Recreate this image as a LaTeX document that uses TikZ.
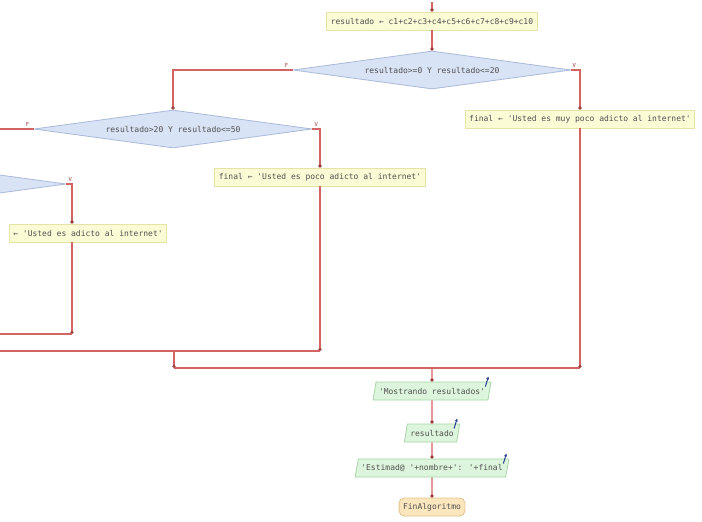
\documentclass[tikz,border=0pt]{standalone}
\usepackage{fontspec}
\newfontfamily\diagmono{DejaVu Sans Mono}
\usetikzlibrary{shapes.geometric,arrows.meta,calc}
\definecolor{procfill}{HTML}{FBFBD6}
\definecolor{procdraw}{HTML}{E4E4A6}
\definecolor{decfill}{HTML}{D9E3F6}
\definecolor{decdraw}{HTML}{A9B9D9}
\definecolor{iofill}{HTML}{DDF5DD}
\definecolor{iodraw}{HTML}{A6D6A6}
\definecolor{endfill}{HTML}{FBE6BE}
\definecolor{enddraw}{HTML}{E2C48E}
\definecolor{flow}{HTML}{D36464}
\definecolor{tipc}{HTML}{A03C3C}
\definecolor{txt}{HTML}{505050}
\definecolor{outarrow}{HTML}{2A3F8F}
\tikzset{
  every node/.style={font=\diagmono\fontsize{8}{9}\selectfont, text=txt},
  procbox/.style={rectangle, draw=procdraw, fill=procfill, line width=0.8pt, minimum height=18pt, inner xsep=4pt, inner ysep=2pt},
  decbox/.style={diamond, aspect=7.3, draw=decdraw, fill=decfill, line width=0.8pt, minimum width=278pt, minimum height=38pt, inner sep=0pt},
  iobox/.style={trapezium, trapezium left angle=74, trapezium right angle=106, draw=iodraw, fill=iofill, line width=0.8pt, minimum height=18pt, inner xsep=3pt, inner ysep=2pt, trapezium stretches body},
  endbox/.style={rectangle, rounded corners=5pt, draw=enddraw, fill=endfill, line width=0.8pt, minimum height=18pt, inner xsep=4pt},
  flowline/.style={draw=flow, line width=1.1pt},
  flowarrow/.style={flowline, -{Circle[length=3.2pt, fill=tipc, color=tipc]}},
  tf/.style={font=\diagmono\fontsize{5.5}{6}\selectfont, text=tipc, inner sep=0pt},
  outmark/.style={draw=outarrow, line width=1pt, -{Stealth[length=3pt, width=3pt]}}
}
\begin{document}
\begin{tikzpicture}[x=1pt, y=-1pt]
\useasboundingbox (0,0) rectangle (702,522);
\clip (0,0) rectangle (702,522);
\fill[white] (0,0) rectangle (702,522);

% nodes
\coordinate (start) at (432,2);
\node[procbox] (b0) at (432,21) {resultado ← c1+c2+c3+c4+c5+c6+c7+c8+c9+c10};
\node[decbox] (d1) at (432,70) {resultado>=0 Y resultado<=20};
\node[procbox] (b1) at (580,119) {final ← 'Usted es muy poco adicto al internet'};
\node[decbox] (d2) at (173,129) {resultado>20 Y resultado<=50};
\node[procbox] (b2) at (320,177) {final ← 'Usted es poco adicto al internet'};
\node[decbox] (d3) at (-73,184) {};
\node[procbox] (b3) at (88,233) {← 'Usted es adicto al internet'};

\coordinate (m3) at (72,334);
\coordinate (m3l) at (0,334);
\coordinate (m2) at (320,351);
\coordinate (m2l) at (0,351);
\coordinate (m2a) at (174,351);
\coordinate (m1l) at (174,368);
\coordinate (m1) at (b1.south |- m1l);
\coordinate (m1c) at (432,368);

\node[iobox] (p1) at (432,391) {'Mostrando resultados'};
\node[iobox] (p2) at (432,433) {resultado};
\node[iobox] (p3) at (432,468) {'Estimad@ '+nombre+': '+final};
\node[endbox] (fin) at (432,507) {FinAlgoritmo};

% connectors
\draw[flowarrow] (start) -- (b0.north);
\draw[flowarrow] (b0.south) -- (d1.north);
\draw[flowarrow] (d1.west) -| (d2.north);
\draw[flowarrow] (d1.east) -| (b1.north);
\draw[flowarrow] (d2.east) -| (b2.north);
\draw[flowline] (d2.west) -- ++(-40,0);
\draw[flowarrow] (d3.east) -| (b3.north -| m3);
\draw[flowarrow] (b3.south -| m3) -- (m3);
\draw[flowline] (m3) -- (m3l);
\draw[flowarrow] (b2.south) -- (m2);
\draw[flowline] (m2) -- (m2l);
\draw[flowarrow] (m2a) -- (m1l);
\draw[flowline] (m1l) -- (m1);
\draw[flowarrow] (b1.south) -- (m1);
\draw[flowarrow] (m1c) -- (p1.north);
\draw[flowarrow] (p1.south) -- (p2.north);
\draw[flowarrow] (p2.south) -- (p3.north);
\draw[flowarrow] (p3.south) -- (fin.north);

% branch labels
\node[tf, anchor=south] at ($(d1.west)+(-6,-2)$) {F};
\node[tf, anchor=south] at ($(d1.east)+(3,-2)$) {V};
\node[tf, anchor=south] at ($(d2.west)+(-6,-2)$) {F};
\node[tf, anchor=south] at ($(d2.east)+(4,-2)$) {V};
\node[tf, anchor=south] at ($(d3.east)+(4,-2)$) {V};

% output marks
\draw[outmark] ($(p1.top right corner)+(-6,5)$) -- ++(3,-10);
\draw[outmark] ($(p2.top right corner)+(-6,5)$) -- ++(3,-10);
\draw[outmark] ($(p3.top right corner)+(-6,5)$) -- ++(3,-10);
\end{tikzpicture}
\end{document}
